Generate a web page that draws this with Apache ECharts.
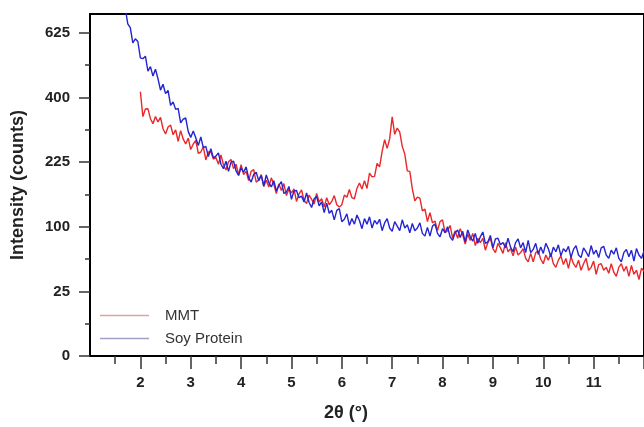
<!DOCTYPE html>
<html>
<head>
<meta charset="utf-8">
<script src="https://cdn.jsdelivr.net/npm/echarts@6/dist/echarts.min.js"></script>
<style>
  html, body { margin: 0; padding: 0; background: #fff; }
  #chart { width: 644px; height: 427px; }
</style>
</head>
<body>
<div id="chart"></div>
<script>
// 2θ grid: both scans were recorded with a 0.05° step
const step = 0.05
const soyStart = 1.7
const mmtStart = 2.0

// intensity (counts)
const soyProtein = [
  724, 660, 645, 587, 602, 592, 532, 529, 538, 486,
  501, 469, 492, 460, 423, 442, 412, 422, 376, 386,
  364, 367, 325, 336, 339, 302, 286, 303, 285, 265,
  287, 260, 263, 238, 257, 235, 239, 247, 220, 210,
  227, 204, 225, 227, 205, 195, 212, 202, 214, 190,
  181, 197, 202, 184, 195, 173, 196, 180, 171, 184,
  163, 174, 182, 158, 161, 172, 147, 163, 164, 150,
  153, 142, 159, 141, 132, 148, 152, 135, 142, 123,
  140, 122, 127, 111, 127, 130, 108, 112, 121, 102,
  113, 104, 119, 110, 97, 113, 104, 116, 98, 110,
  104, 112, 94, 106, 113, 98, 93, 108, 101, 94,
  111, 98, 103, 91, 105, 94, 98, 106, 90, 86,
  99, 86, 101, 104, 90, 85, 97, 91, 100, 85,
  80, 91, 95, 84, 93, 78, 95, 85, 79, 90,
  76, 85, 92, 76, 78, 87, 70, 82, 83, 74,
  77, 70, 83, 71, 65, 77, 82, 70, 77, 64,
  80, 64, 68, 76, 62, 71, 63, 76, 69, 59,
  71, 65, 74, 60, 69, 65, 72, 58, 68, 73,
  61, 58, 70, 65, 59, 73, 62, 67, 58, 70,
  72, 61, 57, 67, 62, 70, 57, 53, 64, 68,
  59, 67, 54, 69, 61, 57, 66
]

const mmt = [
  418, 343, 365, 366, 337, 323, 343, 328, 341, 309,
  295, 314, 319, 293, 306, 276, 304, 282, 269, 284,
  255, 269, 278, 246, 249, 262, 230, 249, 249, 232,
  236, 220, 242, 219, 207, 226, 231, 210, 220, 196,
  219, 197, 204, 184, 204, 208, 181, 185, 197, 172,
  185, 171, 190, 176, 158, 177, 164, 178, 154, 167,
  159, 167, 143, 157, 165, 145, 139, 155, 147, 138,
  158, 142, 148, 133, 150, 137, 143, 154, 137, 133,
  137, 155, 151, 166, 150, 148, 168, 179, 167, 184,
  168, 200, 192, 193, 222, 214, 250, 280, 258, 282,
  342, 294, 311, 300, 263, 244, 205, 204, 167, 144,
  151, 149, 126, 129, 108, 123, 106, 109, 94, 108,
  111, 91, 94, 102, 83, 94, 83, 97, 88, 75,
  89, 80, 90, 73, 83, 77, 83, 67, 77, 83,
  69, 64, 76, 70, 63, 77, 65, 69, 60, 71,
  61, 64, 69, 57, 53, 63, 53, 64, 66, 56,
  51, 61, 55, 63, 51, 47, 55, 60, 50, 57,
  46, 59, 51, 47, 55, 44, 51, 57, 44, 47,
  54, 40, 50, 51, 44, 47, 41, 51, 42, 38,
  47, 51, 43, 48, 38, 49, 40, 44, 35, 46,
  43
]

const xTickLabels = [2, 3, 4, 5, 6, 7, 8, 9, 10, 11]
const xMajorTicks = [2, 3, 4, 5, 6, 7, 8, 9, 10, 11, 12]
const xMinorTicks = [1.5, 2.5, 3.5, 4.5, 5.5, 6.5, 7.5, 8.5, 9.5, 10.5, 11.5]
const yTickLabels = [0, 25, 100, 225, 400, 625]
const yMinorTicks = [6.25, 56.25, 156.25, 306.25, 506.25]
const yTop = 700

// y axis is a square-root scale
const toPairs = (start, vals) => vals.map((v, i) => [+(start + i * step).toFixed(2), Math.sqrt(v)])

const font = '"Liberation Sans", Arial, sans-serif'
const chart = echarts.init(document.getElementById('chart'))

chart.setOption({
  animation: false,
  backgroundColor: '#fff',
  grid: {
    left: 90, top: 14, right: -2, bottom: 65,
    show: true, borderColor: '#000', borderWidth: 2, backgroundColor: 'transparent'
  },
  legend: {
    orient: 'vertical',
    left: 95, top: 303,
    icon: 'rect',
    itemWidth: 49, itemHeight: 1.5, itemGap: 8,
    textStyle: { fontFamily: font, fontSize: 15, color: '#333', padding: [0, 0, 0, 11] },
    data: [
      { name: 'MMT', itemStyle: { color: '#e4a0a0' } },
      { name: 'Soy Protein', itemStyle: { color: '#a0a0c8' } }
    ]
  },
  xAxis: [
    {
      type: 'value',
      min: 1, max: 12,
      name: '2θ (°)',
      nameLocation: 'middle',
      nameGap: 48,
      nameTextStyle: { fontFamily: font, fontSize: 18, fontWeight: 'bold', color: '#222', padding: [0, 42, 0, 0] },
      axisLine: { onZero: false, lineStyle: { color: '#000', width: 2 } },
      axisTick: { customValues: xMajorTicks, length: 13, lineStyle: { color: '#333', width: 1.5 } },
      axisLabel: {
        customValues: xTickLabels,
        margin: 19,
        fontFamily: font, fontSize: 15, fontWeight: 'bold', color: '#222'
      },
      splitLine: { show: false }
    },
    {
      type: 'value',
      position: 'bottom',
      min: 1, max: 12,
      axisLine: { show: false },
      axisTick: { customValues: xMinorTicks, length: 8, lineStyle: { color: '#333', width: 1.5 } },
      axisLabel: { show: false },
      splitLine: { show: false }
    }
  ],
  yAxis: [
    {
      type: 'value',
      min: 0, max: Math.sqrt(yTop),
      name: 'Intensity (counts)',
      nameLocation: 'middle',
      nameGap: 63,
      nameTextStyle: { fontFamily: font, fontSize: 18, fontWeight: 'bold', color: '#222' },
      axisLine: { onZero: false, lineStyle: { color: '#000', width: 2 } },
      axisTick: { customValues: yTickLabels.map(Math.sqrt), length: 11, lineStyle: { color: '#333', width: 1.5 } },
      axisLabel: {
        customValues: yTickLabels.map(Math.sqrt),
        formatter: v => Math.round(v * v),
        margin: 20,
        fontFamily: font, fontSize: 15, fontWeight: 'bold', color: '#222'
      },
      splitLine: { show: false }
    },
    {
      type: 'value',
      position: 'left',
      min: 0, max: Math.sqrt(yTop),
      axisLine: { show: false },
      axisTick: { customValues: yMinorTicks.map(Math.sqrt), length: 5, lineStyle: { color: '#333', width: 1.5 } },
      axisLabel: { show: false },
      splitLine: { show: false }
    }
  ],
  series: [
    {
      name: 'MMT',
      type: 'line',
      data: toPairs(mmtStart, mmt),
      showSymbol: false,
      symbol: 'none',
      lineStyle: { color: '#e8282a', width: 1.4 },
      itemStyle: { color: '#e8282a' }
    },
    {
      name: 'Soy Protein',
      type: 'line',
      data: toPairs(soyStart, soyProtein),
      showSymbol: false,
      symbol: 'none',
      lineStyle: { color: '#2424d0', width: 1.4 },
      itemStyle: { color: '#2424d0' }
    }
  ]
})
</script>
</body>
</html>
